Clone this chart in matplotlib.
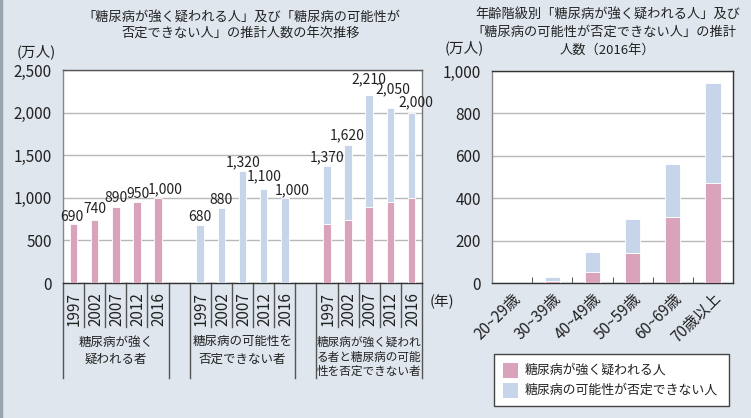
import matplotlib
matplotlib.use("Agg")
import matplotlib.pyplot as plt
from matplotlib.patches import Rectangle
from matplotlib.lines import Line2D
import matplotlib.transforms as mtransforms

plt.rcParams['font.family'] = ['Noto Sans CJK JP', 'DejaVu Sans']

# ---- data ----
years = ["1997", "2002", "2007", "2012", "2016"]
strong = [690, 740, 890, 950, 1000]          # 糖尿病が強く疑われる者
possible = [680, 880, 1320, 1100, 1000]      # 糖尿病の可能性を否定できない者
total = [1370, 1620, 2210, 2050, 2000]       # 合計
group_labels = [["糖尿病が強く", "疑われる者"],
                ["糖尿病の可能性を", "否定できない者"],
                ["糖尿病が強く疑われ", "る者と糖尿病の可能", "性を否定できない者"]]

ages = ["20~29歳", "30~39歳", "40~49歳", "50~59歳", "60~69歳", "70歳以上"]
age_strong = [1, 10, 50, 140, 310, 470]
age_possible = [1, 20, 95, 160, 250, 475]
legend_labels = ["糖尿病が強く疑われる人", "糖尿病の可能性が否定できない人"]

# value-label placement (pixels: dx right, dy above bar top)
lab_dx = [[-2, 0, 0, 1, 7], [0, 0, 1, 1, 7], [0, -1, 0, 3, 4]]
lab_dy = [[7, 11, 9, 8, 9], [8, 8, 8.5, 13, 8], [9, 10, 15, 19, 10]]

PINK = "#d8a3bb"
BLUE = "#c7d5ea"
BG = "#dfe6ee"
GRID = "#b8b8b8"
LINE = "#333333"
TXT = "#222222"

W, H = 751, 418
fig = plt.figure(figsize=(W/100, H/100), dpi=100, facecolor=BG)
fig.add_artist(Line2D([0.0015, 0.0015], [0, 1], color="#9aa4ae", lw=2.5, transform=fig.transFigure))


def ftext(x, y, s, **kw):
    kw.setdefault("ha", "center")
    kw.setdefault("va", "center")
    kw.setdefault("color", TXT)
    return fig.text(x / W, 1 - y / H, s, **kw)


# ---------- left chart ----------
ax = fig.add_axes([63/W, 1-283/H, 359/W, 213/H])
ax.set_facecolor("white")
bw = 0.36
g1 = [0, 1, 2, 3, 4]
g2 = [6, 7, 8, 9, 10]
g3 = [12, 13, 14, 15, 16]
ax.bar(g1, strong, width=bw, color=PINK, edgecolor="white", linewidth=0.6, zorder=3)
ax.bar(g2, possible, width=bw, color=BLUE, edgecolor="white", linewidth=0.6, zorder=3)
ax.bar(g3, strong, width=bw, color=PINK, edgecolor="white", linewidth=0.6, zorder=3)
ax.bar(g3, possible, width=bw, bottom=strong, color=BLUE, edgecolor="white", linewidth=0.6, zorder=3)

for gi, (xs, vals) in enumerate(((g1, strong), (g2, possible), (g3, total))):
    for k, (x, v) in enumerate(zip(xs, vals)):
        ax.annotate(f"{v:,}", (x, v),
                    xytext=(lab_dx[gi][k] * 0.72, lab_dy[gi][k] * 0.72),
                    textcoords="offset points",
                    ha="center", va="center", fontsize=10, color=TXT, zorder=5)

ax.set_xlim(-0.5, 16.5)
ax.set_ylim(0, 2500)
ax.set_yticks(range(0, 2501, 500))
ax.set_yticklabels([f"{v:,}" for v in range(0, 2501, 500)], fontsize=11, color=TXT)
ax.tick_params(axis='y', length=0, pad=8)
ax.set_xticks([])
ax.grid(axis='y', color=GRID, lw=1, zorder=0)
for s in ax.spines.values():
    s.set_color(LINE)
    s.set_linewidth(1)
ax.spines['left'].set_color("#888888")
ax.spines['top'].set_color("#555555")
ax.spines['right'].set_color("#777777")

trans = mtransforms.blended_transform_factory(ax.transData, ax.transAxes)
for xs in (g1, g2, g3):
    for x, y in zip(xs, years):
        ax.text(x + 0.05, -0.122, y, rotation=90, ha="center", va="center", fontsize=11,
                transform=trans, color=TXT)
    for b in xs[:-1]:
        ax.add_line(Line2D([b+0.5, b+0.5], [0, -0.207], transform=trans, color="#555555",
                           lw=1, clip_on=False))
    for b in (xs[0]-0.5, xs[-1]+0.5):
        ax.add_line(Line2D([b, b], [0, -0.446], transform=trans, color="#555555",
                           lw=1, clip_on=False))

slot_px = 359 / 17.0
def slot_x(s):
    return 63 + (s + 0.5) * slot_px

for line, yy in zip(group_labels[0], (342, 359)):
    ftext(slot_x(2), yy, line, fontsize=9)
for line, yy in zip(group_labels[1], (342, 359)):
    ftext(slot_x(8), yy, line, fontsize=9)
for line, yy in zip(group_labels[2], (342, 357, 371)):
    ftext(slot_x(14), yy, line, fontsize=8.4)

ftext(430, 302, "(年)", ha="left", fontsize=10.5)
ftext(17, 52, "(万人)", ha="left", fontsize=10.5)
ftext(241, 17, "「糖尿病が強く疑われる人」及び「糖尿病の可能性が", fontsize=9.5)
ftext(241, 33, "否定できない人」の推計人数の年次推移", fontsize=9.5)

# ---------- right chart ----------
ax2 = fig.add_axes([492/W, 1-283/H, 241/W, 212/H])
ax2.set_facecolor("white")
xs = range(len(ages))
ax2.bar(xs, age_strong, width=0.38, color=PINK, edgecolor="white", linewidth=0.6, zorder=3)
ax2.bar(xs, age_possible, width=0.38, bottom=age_strong, color=BLUE, edgecolor="white",
        linewidth=0.6, zorder=3)
ax2.set_xlim(-0.5, 5.5)
ax2.set_ylim(0, 1000)
ax2.set_yticks(range(0, 1001, 200))
ax2.set_yticklabels([f"{v:,}" for v in range(0, 1001, 200)], fontsize=11, color=TXT)
ax2.tick_params(axis='y', length=0, pad=8)
ax2.set_xticks(list(xs))
ax2.set_xticklabels(ages, rotation=45, ha="right", rotation_mode="anchor", fontsize=11,
                    color=TXT)
ax2.tick_params(axis='x', length=0, pad=5)
ax2.set_xticks([0.5, 1.5, 2.5, 3.5, 4.5], minor=True)
ax2.tick_params(axis='x', which='minor', direction='in', length=4, color=LINE)
ax2.grid(axis='y', color=GRID, lw=1, zorder=0)
for s in ax2.spines.values():
    s.set_color(LINE)
    s.set_linewidth(1)
ax2.spines['left'].set_color("#888888")

ftext(445, 48, "(万人)", ha="left", fontsize=10.5)
ftext(608, 15, "年齢階級別「糖尿病が強く疑われる人」及び", fontsize=9.5)
ftext(604, 32, "「糖尿病の可能性が否定できない人」の推計", fontsize=9.5)
ftext(607, 50, "人数（2016年）", fontsize=9.5)

# ---------- legend (drawn in figure pixels) ----------
def fbox(x0, y0, x1, y1, **kw):
    fig.add_artist(Rectangle((x0 / W, 1 - y1 / H), (x1 - x0) / W, (y1 - y0) / H,
                             transform=fig.transFigure, **kw))

fbox(494, 354, 729, 406, facecolor="white", edgecolor="#444444", lw=1)
for (c, lab, yc) in ((PINK, legend_labels[0], 370), (BLUE, legend_labels[1], 390)):
    fbox(503, yc - 7.5, 518, yc + 7.5, facecolor=c, edgecolor="none")
    ftext(525, yc, lab, ha="left", fontsize=9.3)

fig.savefig("out.png", dpi=100, facecolor=BG)
